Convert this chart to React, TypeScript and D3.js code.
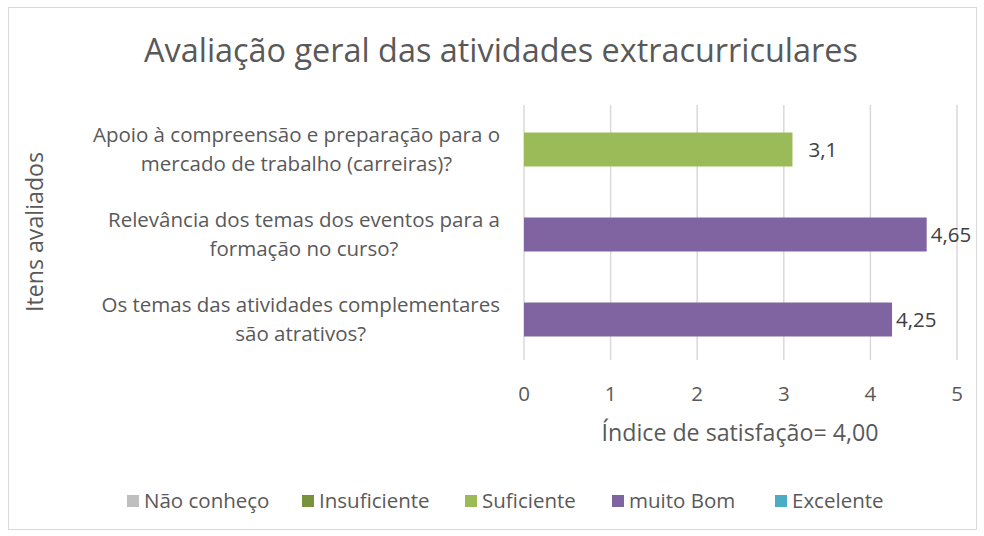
import * as d3 from 'd3'
import { useRef, useEffect } from 'react'

const W = 984, H = 536
const M = { top: 105, right: 27, bottom: 176, left: 524 }

const ITEMS = [
  ['Apoio à compreensão e preparação para o', 'mercado de trabalho (carreiras)?'],
  ['Relevância dos temas dos eventos para a', 'formação no curso?'],
  ['Os temas das atividades complementares', 'são atrativos?'],
]
const VALUES = [3.1, 4.65, 4.25]
const VALUE_LABELS = ['3,1', '4,65', '4,25']
const BAR_COLORS = ['#9BBB59', '#8064A2', '#8064A2']
const X_TICKS = [0, 1, 2, 3, 4, 5]
const LEGEND = ['Não conheço', 'Insuficiente', 'Suficiente', 'muito Bom', 'Excelente']
const LEGEND_COLORS = ['#BFBFBF', '#77933C', '#9BBB59', '#8064A2', '#4BACC6']
const LEGEND_X = [127, 302, 465, 612, 775]

const FONT = "'Open Sans', sans-serif"
const TXT = '#595959'
const FS = 20.5

export default function App() {
  const svgRef = useRef<SVGSVGElement>(null)

  useEffect(() => {
    const svg = d3.select(svgRef.current)
    svg.selectAll('*').remove()

    const x = d3.scaleLinear().domain([0, 5]).range([M.left, W - M.right])
    const y = d3.scaleBand<number>().domain(d3.range(ITEMS.length)).range([M.top + 2, H - M.bottom + 2]).paddingInner(0.6).paddingOuter(0.3)

    svg.append('rect').attr('x', 8.5).attr('y', 7.5).attr('width', W - 16).attr('height', H - 14)
      .attr('fill', '#fff').attr('stroke', '#d9d9d9')

    // gridlines
    X_TICKS.forEach((t) => svg.append('line').attr('x1', x(t)).attr('x2', x(t)).attr('y1', M.top).attr('y2', H - M.bottom)
      .attr('stroke', '#d9d9d9').attr('stroke-width', 1.5))

    // bars
    VALUES.forEach((v, i) => {
      svg.append('rect').attr('x', x(0)).attr('y', y(i)!).attr('width', x(v) - x(0)).attr('height', y.bandwidth())
        .attr('fill', BAR_COLORS[i])
      svg.append('text').attr('x', x(v) + (i === 0 ? 16 : 4)).attr('y', y(i)! + y.bandwidth() / 2).attr('dy', '0.35em')
        .attr('font-size', FS).attr('fill', '#404040').attr('font-family', FONT).text(VALUE_LABELS[i])
    })

    // category labels: block right-aligned at x=500, lines centred inside it
    ITEMS.forEach((lines, i) => {
      const cy = y(i)! + y.bandwidth() / 2
      const g = svg.append('g')
      const texts = lines.map((l, j) => g.append('text').attr('y', cy + (j - 0.5) * 29).attr('dy', '0.35em')
        .attr('text-anchor', 'middle').attr('font-size', FS).attr('fill', TXT).attr('font-family', FONT).text(l))
      const maxW = d3.max(texts, (t) => (t.node() as SVGTextElement).getComputedTextLength()) ?? 0
      texts.forEach((t) => t.attr('x', 500 - maxW / 2))
    })

    // x tick labels
    X_TICKS.forEach((t) => svg.append('text').attr('x', x(t)).attr('y', 394).attr('dy', '0.35em').attr('text-anchor', 'middle')
      .attr('font-size', FS).attr('fill', TXT).attr('font-family', FONT).text(t))

    // titles
    svg.append('text').attr('x', 501).attr('y', 51).attr('dy', '0.35em').attr('text-anchor', 'middle')
      .attr('font-size', 32.4).attr('fill', TXT).attr('font-family', FONT).text('Avaliação geral das atividades extracurriculares')
    svg.append('text').attr('x', 740).attr('y', 433).attr('dy', '0.35em').attr('text-anchor', 'middle')
      .attr('font-size', 23.2).attr('fill', TXT).attr('font-family', FONT).text('Índice de satisfação= 4,00')
    svg.append('text').attr('transform', 'translate(35,232) rotate(-90)').attr('dy', '0.35em').attr('text-anchor', 'middle')
      .attr('font-size', 23.2).attr('fill', TXT).attr('font-family', FONT).text('Itens avaliados')

    // legend
    LEGEND.forEach((l, i) => {
      svg.append('rect').attr('x', LEGEND_X[i]).attr('y', 495).attr('width', 12).attr('height', 12).attr('fill', LEGEND_COLORS[i])
      svg.append('text').attr('x', LEGEND_X[i] + 17).attr('y', 501).attr('dy', '0.35em')
        .attr('font-size', FS).attr('fill', TXT).attr('font-family', FONT).text(l)
    })
  }, [])

  return <svg ref={svgRef} width={W} height={H} style={{ position: 'absolute', left: 0, top: 0 }} />
}
